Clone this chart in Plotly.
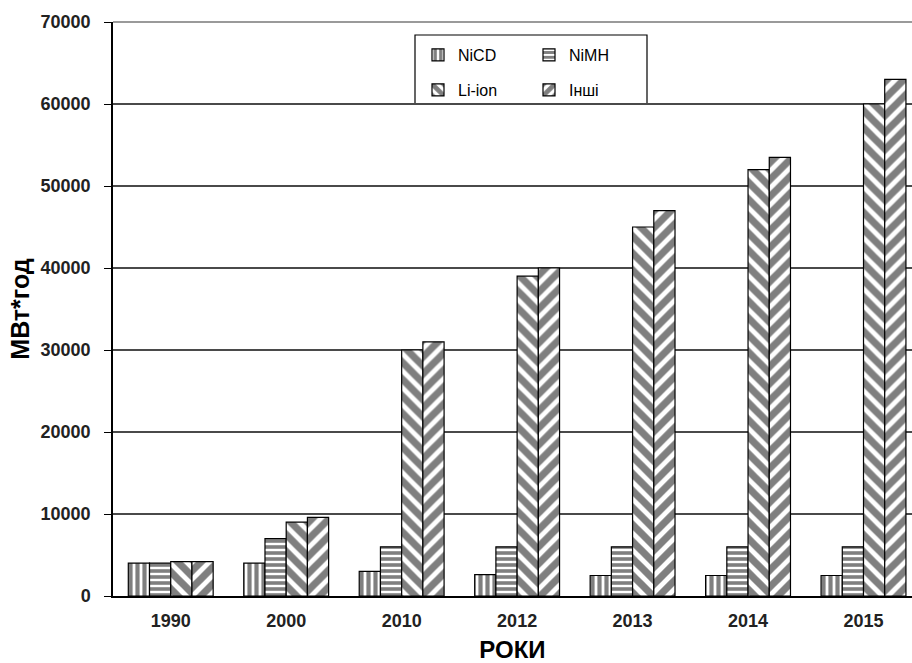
import plotly.graph_objects as go

years = ["1990", "2000", "2010", "2012", "2013", "2014", "2015"]
nicd = [4000, 4000, 3000, 2600, 2500, 2500, 2500]
nimh = [4000, 7000, 6000, 6000, 6000, 6000, 6000]
liion = [4200, 9000, 30000, 39000, 45000, 52000, 60000]
others = [4200, 9600, 31000, 40000, 47000, 53500, 63000]

series = [
    ("NiCD", nicd, "|", 7, "legend"),
    ("NiMH", nimh, "-", 6, "legend"),
    ("Li-ion", liion, "\\", 12, "legend2"),
    ("Інші", others, "/", 12, "legend2"),
]

FONT = "Arial, Liberation Sans, sans-serif"

fig = go.Figure()
for name, vals, shp, sz, lg in series:
    fig.add_trace(go.Bar(
        x=years, y=vals, name=name, legend=lg,
        marker=dict(
            color="white",
            line=dict(color="black", width=1.2),
            pattern=dict(shape=shp, fgcolor="black", bgcolor="white",
                         size=sz, solidity=0.6, fillmode="overlay"),
        ),
    ))

L, R, T, B = 113, 0, 22, 67
W, H = 912, 663
pw, ph = W - L - R, H - T - B

def px(x):
    return (x - L) / pw

def py(y):
    return (H - B - y) / ph

legend_common = dict(
    orientation="h", xanchor="left", yanchor="middle",
    bgcolor="rgba(0,0,0,0)", borderwidth=0,
    font=dict(family=FONT, size=16, color="black"),
    entrywidth=66, traceorder="normal",
)

fig.update_layout(
    width=W, height=H,
    margin=dict(l=L, r=R, t=T, b=B, autoexpand=False),
    paper_bgcolor="white", plot_bgcolor="white",
    barmode="group", bargap=0.265, bargroupgap=0,
    font=dict(family=FONT, color="black"),
    legend=dict(x=px(418), y=py(55), **legend_common),
    legend2=dict(x=px(418), y=py(90), **legend_common),
    xaxis=dict(
        type="category", range=[-0.5, 6.42], automargin=False,
        showline=True, linecolor="black", linewidth=1.5,
        ticks="", showgrid=False, ticklabelstandoff=8,
        tickfont=dict(family=FONT, size=18, color="#222", weight="bold"),
        title=dict(text="РОКИ", font=dict(family=FONT, size=24, color="black", weight="bold"), standoff=17),
    ),
    yaxis=dict(
        range=[0, 70000], dtick=10000, tickformat="d", automargin=False,
        showline=True, linecolor="black", linewidth=1.5,
        ticks="outside", ticklen=7, tickcolor="black", tickwidth=1,
        ticklabelstandoff=10,
        showgrid=True, gridcolor="#4a4a4a", gridwidth=1.5,
        zeroline=False,
        tickfont=dict(family=FONT, size=18, color="#222", weight="bold"),
        title=dict(text="МВт*год", font=dict(family=FONT, size=25, color="black", weight="bold"), standoff=4),
    ),
    shapes=[
        dict(type="rect", xref="paper", yref="paper",
             x0=px(415), x1=px(647), y0=py(104), y1=py(35),
             line=dict(color="black", width=1.2), fillcolor="white", layer="below"),
        dict(type="line", xref="paper", yref="paper",
             x0=0, x1=1, y0=1, y1=1,
             line=dict(color="#9a9a9a", width=2), layer="above"),
    ],
)

fig.write_html("out.html")
